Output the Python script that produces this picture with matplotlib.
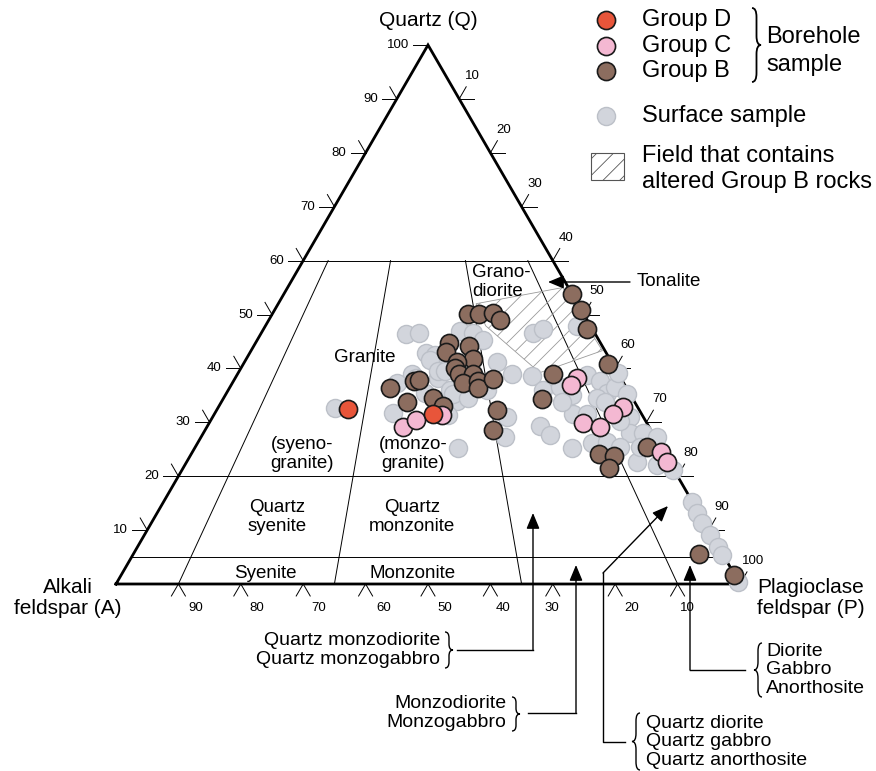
# QAP ternary diagram (Streckeisen) with borehole / surface samples
import numpy as np
import matplotlib
matplotlib.use("Agg")
from matplotlib import pyplot as plt
from matplotlib.path import Path
from matplotlib.patches import PathPatch, Polygon, Rectangle

plt.rcParams['font.family'] = ['Liberation Sans', 'DejaVu Sans']
plt.rcParams['hatch.linewidth'] = 0.6

# ---- data (Q %, P %; A = 100 - Q - P) ----
red_q = [32.4, 31.6]
red_p = [21.0, 35.0]

pink_q = [29.2, 30.5, 31.3, 38.3, 37.0, 32.9, 31.6, 29.8, 29.2, 24.4, 22.6]
pink_p = [31.4, 32.8, 36.6, 54.7, 54.4, 64.8, 63.8, 59.9, 63.0, 75.1, 77.0]

brown_q = [50.1, 50.1, 50.3, 48.9, 44.8, 43.1, 44.2, 41.8, 41.1, 40.0,
           39.0, 39.0, 37.2, 37.7, 36.3, 38.1, 37.7, 37.9, 36.3, 33.7,
           34.6, 33.1, 32.2, 28.5, 53.8, 50.9, 47.4, 40.9, 38.9, 34.4,
           24.1, 23.7, 21.5, 25.5, 5.6, 1.7]
brown_p = [31.3, 33.1, 35.2, 37.1, 31.0, 31.3, 34.5, 36.3, 34.1, 34.3,
           35.5, 37.7, 37.0, 39.1, 39.8, 41.3, 28.9, 29.6, 25.8, 29.8,
           33.5, 35.8, 45.0, 46.2, 46.2, 49.0, 51.8, 58.4, 50.6, 51.1,
           65.4, 68.0, 68.3, 72.3, 90.6, 98.2]

gray_q = [46.4, 46.6, 42.9, 42.4, 41.5, 39.0, 38.3, 37.2, 31.8, 38.3,
          35.9, 34.0, 47.0, 46.6, 45.2, 41.1, 39.0, 35.9, 30.9, 25.2,
          32.6, 46.6, 47.4, 47.9, 38.5, 35.9, 36.5, 35.0, 38.7, 37.7,
          35.5, 36.5, 35.3, 34.6, 33.7, 31.6, 31.6, 30.9, 28.1, 28.1,
          27.2, 29.4, 27.6, 25.2, 26.1, 26.3, 25.4, 22.6, 22.0, 21.1,
          15.2, 13.1, 11.3, 9.1, 6.8, 5.4, 0.4, 27.2, 39.6, 35.3,
          34.6, 39.6, 35.5, 31.3, 37.4, 39.2, 30.3, 33.7, 25.4]
gray_p = [23.3, 25.3, 28.3, 29.9, 29.5, 27.9, 29.0, 26.4, 28.5, 32.4,
          35.5, 37.6, 31.6, 33.9, 36.2, 40.5, 44.0, 41.5, 47.2, 42.2,
          18.8, 43.5, 44.7, 50.0, 47.4, 50.4, 52.9, 55.6, 56.1, 58.7,
          60.9, 61.7, 64.2, 59.8, 61.5, 57.4, 59.7, 66.9, 68.3, 70.4,
          73.1, 53.2, 55.8, 60.5, 63.3, 65.5, 68.1, 72.2, 75.7, 78.7,
          84.7, 86.5, 88.2, 90.6, 93.1, 94.4, 99.5, 48.7, 31.8, 36.3,
          39.1, 32.9, 31.7, 37.6, 37.7, 60.8, 65.6, 54.7, 71.3]

# field containing altered Group B rocks
field_q = [52.0, 55.0, 43.3, 39.2, 47.9]
field_p = [31.7, 44.1, 56.3, 48.3, 35.3]

# QAPF boundaries
q_levels = [60, 20, 5]
p_ratios = [10, 35, 65, 90]   # P/(A+P) in %
ticks = [10, 20, 30, 40, 50, 60, 70, 80, 90]

# ---- geometry ----
A_px = np.array([116.0, 584.0])
P_px = np.array([740.0, 584.0])
Q_px = np.array([428.0, 45.0])


def tern(q, p):
    q = np.asarray(q, float) / 100.0
    p = np.asarray(p, float) / 100.0
    a = 1.0 - q - p
    x = a * A_px[0] + p * P_px[0] + q * Q_px[0]
    y = a * A_px[1] + p * P_px[1] + q * Q_px[1]
    return x, y


def brace(ax, x, y0, y1, w, right=True, lw=1.0):
    d = 1 if right else -1
    ym = (y0 + y1) / 2.0
    r = min(w, (y1 - y0) / 6.0)
    xm = x + d * w / 2.0
    verts = [(x, y0), (xm, y0), (xm, y0 + r), (xm, ym - r), (xm, ym), (x + d * w, ym),
             (xm, ym), (xm, ym + r), (xm, y1 - r), (xm, y1), (x, y1)]
    codes = [Path.MOVETO, Path.CURVE3, Path.CURVE3, Path.LINETO, Path.CURVE3, Path.CURVE3,
             Path.CURVE3, Path.CURVE3, Path.LINETO, Path.CURVE3, Path.CURVE3]
    ax.add_patch(PathPatch(Path(verts, codes), fc='none', ec='k', lw=lw))


fig = plt.figure(figsize=(8.76, 7.71), dpi=100)
ax = fig.add_axes([0, 0, 1, 1])
ax.set_xlim(0, 876)
ax.set_ylim(771, 0)
ax.axis('off')

# triangle outline
tx, ty = tern([0, 100, 0, 0], [0, 0, 100, 0])
ax.plot(tx, ty, color='k', lw=2.0, solid_joinstyle='miter', zorder=3)

# field boundaries
for q in q_levels:
    lx, ly = tern([q, q], [0, 100 - q])
    ax.plot(lx, ly, color='k', lw=0.7, zorder=2)
for r in p_ratios:
    lx, ly = tern([0, 60], [r, 0.4 * r])
    ax.plot(lx, ly, color='k', lw=0.7, zorder=2)

# ticks
tl = 15.0
up_left = np.array([-0.5, -0.866])
up_right = np.array([0.5, -0.866])
tfs = 9.5
for v in ticks + [100]:
    x, y = tern(v, 0)
    ax.plot([x - tl, x], [y, y], color='k', lw=0.7)
    if v < 100:
        ax.plot([x, x + 14 * up_left[0]], [y, y + 14 * up_left[1]], color='k', lw=0.7)
    ax.text(x - 19, y, str(v), ha='right', va='center', fontsize=tfs)
for v in ticks + [100]:
    x, y = tern(100 - v, v)
    if v < 100:
        ax.plot([x, x + tl], [y, y], color='k', lw=0.7)
    ax.plot([x, x + 14 * up_right[0]], [y, y + 14 * up_right[1]], color='k', lw=0.7)
    ax.text(x + 13, y - 23, str(v), ha='center', va='center', fontsize=tfs)
bottom_dx = [17, 16, 15, 18, 17, 13, -1, 16, 10]
for v, dx in zip(ticks[::-1], bottom_dx):
    x, y = tern(0, 100 - v)
    ax.plot([x - 7, x, x + 7], [y + 12, y, y + 12], color='k', lw=0.7)
    ax.text(x + dx, y + 24, str(v), ha='center', va='center', fontsize=tfs)

# altered field
fx, fy = tern(field_q, field_p)
ax.add_patch(Polygon(np.column_stack([fx, fy]), closed=True, fc='none', ec='#9a9a9a',
                     hatch='//', lw=0.6, zorder=2))

# samples
ms = 170
ax.scatter(*tern(gray_q, gray_p), s=ms, c='#D2D5DC', edgecolors='#BCC0C8', linewidths=1.0, zorder=4)
ax.scatter(*tern(brown_q, brown_p), s=ms, c='#8C6D5F', edgecolors='#1a1a1a', linewidths=1.2, zorder=5)
ax.scatter(*tern(pink_q, pink_p), s=ms, c='#F4B8D2', edgecolors='#1a1a1a', linewidths=1.2, zorder=6)
ax.scatter(*tern(red_q, red_p), s=ms, c='#E8553A', edgecolors='#1a1a1a', linewidths=1.2, zorder=7)

# vertex labels
ax.text(428, 20, "Quartz (Q)", ha='center', va='center', fontsize=15)
ax.text(68, 598, "Alkali\nfeldspar (A)", ha='center', va='center', fontsize=15, linespacing=1.15)
ax.text(811, 598, "Plagioclase\nfeldspar (P)", ha='center', va='center', fontsize=15, linespacing=1.15)

# field names
fs = 13.5
ls = 1.1
ax.text(472, 282, "Grano-\ndiorite", ha='left', va='center', fontsize=fs, linespacing=ls)
ax.text(365, 358, "Granite", ha='center', va='center', fontsize=fs)
ax.text(302, 454, "(syeno-\ngranite)", ha='center', va='center', fontsize=fs, linespacing=ls)
ax.text(413, 454, "(monzo-\ngranite)", ha='center', va='center', fontsize=fs, linespacing=ls)
ax.text(277, 517, "Quartz\nsyenite", ha='center', va='center', fontsize=fs, linespacing=ls)
ax.text(412, 517, "Quartz\nmonzonite", ha='center', va='center', fontsize=fs, linespacing=ls)
ax.text(265, 573, "Syenite", ha='center', va='center', fontsize=fs)
ax.text(413, 573, "Monzonite", ha='center', va='center', fontsize=fs)
ax.text(637, 281, "Tonalite", ha='left', va='center', fontsize=fs)

aprops = dict(arrowstyle='-|>,head_length=0.6,head_width=0.25', color='k', lw=1.0,
              mutation_scale=16, shrinkA=0, shrinkB=0)
ax.annotate('', xy=(548, 282), xytext=(630, 282), arrowprops=aprops)

# bottom annotations
afs = 14
ax.text(440, 650, "Quartz monzodiorite\nQuartz monzogabbro", ha='right', va='center',
        fontsize=afs, linespacing=ls)
brace(ax, 445, 632, 668, 8, right=True)
ax.plot([457, 533], [650, 650], color='k', lw=1.0)
ax.annotate('', xy=(533, 513), xytext=(533, 650), arrowprops=aprops)

ax.text(506, 713, "Monzodiorite\nMonzogabbro", ha='right', va='center', fontsize=afs, linespacing=ls)
brace(ax, 512, 697, 731, 8, right=True)
ax.plot([528, 576], [713, 713], color='k', lw=1.0)
ax.annotate('', xy=(576, 565), xytext=(576, 713), arrowprops=aprops)

ax.text(646, 742, "Quartz diorite\nQuartz gabbro\nQuartz anorthosite", ha='left', va='center',
        fontsize=afs, linespacing=ls)
brace(ax, 640, 713, 770, 8, right=False)
ax.plot([625, 603, 603], [742, 742, 573], color='k', lw=1.0)
ax.annotate('', xy=(668, 506), xytext=(603, 573), arrowprops=aprops)

ax.text(766, 670, "Diorite\nGabbro\nAnorthosite", ha='left', va='center', fontsize=afs, linespacing=ls)
brace(ax, 762, 643, 697, 8, right=False)
ax.plot([745, 690], [670, 670], color='k', lw=1.0)
ax.annotate('', xy=(690, 565), xytext=(690, 670), arrowprops=aprops)

# legend
lfs = 17
ax.scatter([606], [20], s=ms, c='#E8553A', edgecolors='#1a1a1a', linewidths=1.2)
ax.scatter([606], [46], s=ms, c='#F4B8D2', edgecolors='#1a1a1a', linewidths=1.2)
ax.scatter([606], [71], s=ms, c='#8C6D5F', edgecolors='#1a1a1a', linewidths=1.2)
ax.scatter([606], [116], s=ms, c='#D2D5DC', edgecolors='#BCC0C8', linewidths=1.0)
ax.text(642, 20, "Group D", ha='left', va='center', fontsize=lfs)
ax.text(642, 46, "Group C", ha='left', va='center', fontsize=lfs)
ax.text(642, 71, "Group B", ha='left', va='center', fontsize=lfs)
brace(ax, 752, 8, 82, 9, right=True, lw=1.3)
ax.text(766, 51, "Borehole\nsample", ha='left', va='center', fontsize=lfs, linespacing=1.3)
ax.text(642, 116, "Surface sample", ha='left', va='center', fontsize=lfs)
ax.add_patch(Rectangle((591, 153), 33, 27, fc='none', ec='#555555', hatch='//', lw=0.8))
ax.text(642, 169, "Field that contains\naltered Group B rocks", ha='left', va='center',
        fontsize=lfs, linespacing=1.25)

fig.savefig("out.png", dpi=100)
